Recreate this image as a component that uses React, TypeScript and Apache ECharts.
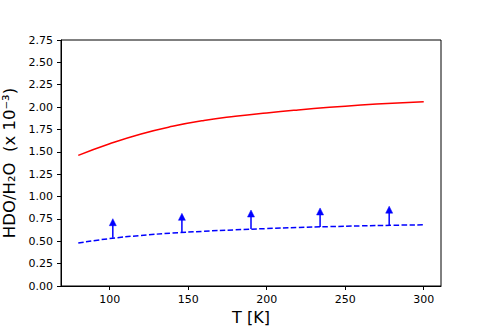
import React, { useEffect, useRef } from "react";
import * as echarts from "echarts";

const xTicks = [100, 150, 200, 250, 300];
const redT = [80, 100, 120, 140, 160, 180, 200, 220, 240, 260, 280, 300];
const redVals = [1.46, 1.59, 1.7, 1.785, 1.85, 1.897, 1.935, 1.968, 1.997, 2.022, 2.043, 2.06];
const blueT = [80, 100, 120, 140, 160, 180, 200, 220, 240, 260, 280, 300];
const blueVals = [0.48, 0.53, 0.565, 0.592, 0.612, 0.628, 0.642, 0.654, 0.664, 0.672, 0.679, 0.684];
const arrowT = [102, 146, 190, 234, 278];
const arrowVals = [0.54, 0.6, 0.637, 0.66, 0.68];

export default function App() {
  const ref = useRef<HTMLDivElement>(null);
  useEffect(() => {
    const chart = echarts.init(ref.current!, null, { renderer: "svg" });
    const font = "DejaVu Sans";
    chart.setOption({
      animation: false,
      grid: {
        left: 61,
        right: 50,
        top: 40,
        bottom: 41,
        containLabel: false,
        outerBoundsMode: "none",
        show: true,
        borderColor: "#000",
        borderWidth: 1,
        backgroundColor: "transparent",
      },
      xAxis: {
        type: "value",
        min: 69,
        max: 311,
        name: "T [K]",
        nameLocation: "middle",
        nameGap: 23,
        nameTextStyle: { fontFamily: font, fontSize: 16, color: "#000" },
        axisLine: { show: true, lineStyle: { color: "#000", width: 1 } },
        axisTick: { show: true, length: 4, customValues: xTicks, lineStyle: { color: "#000" } },
        axisLabel: {
          customValues: xTicks,
          margin: 8,
          fontFamily: font,
          fontSize: 11,
          color: "#000",
        },
        splitLine: { show: false },
      },
      yAxis: {
        type: "value",
        min: 0,
        max: 2.75,
        interval: 0.25,
        name: "HDO/H₂O  (x 10⁻³)",
        nameLocation: "middle",
        nameRotate: 90,
        nameGap: 29,
        nameTextStyle: { fontFamily: font, fontSize: 16.5, color: "#000" },
        axisLine: { show: true, lineStyle: { color: "#000", width: 1 } },
        axisTick: { show: true, length: 4, lineStyle: { color: "#000" } },
        axisLabel: {
          margin: 8,
          fontFamily: font,
          fontSize: 11,
          color: "#000",
          formatter: (v: number) => v.toFixed(2),
        },
        splitLine: { show: false },
      },
      series: [
        {
          type: "line",
          data: redT.map((t, i) => [t, redVals[i]]),
          smooth: true,
          symbol: "none",
          lineStyle: { color: "#ff0000", width: 1.5 },
        },
        {
          type: "line",
          data: blueT.map((t, i) => [t, blueVals[i]]),
          smooth: true,
          symbol: "none",
          lineStyle: { color: "#0000ff", width: 1.5, type: [5.5, 2.4] },
        },
        {
          type: "custom",
          data: arrowT.map((t, i) => [t, arrowVals[i]]),
          renderItem: (params: any, api: any) => {
            const p = api.coord([api.value(0), api.value(1)]);
            const len = 19;
            const headH = 7;
            const headW = 3.5;
            const tipY = p[1] - len;
            return {
              type: "group",
              children: [
                {
                  type: "line",
                  shape: { x1: p[0], y1: p[1], x2: p[0], y2: tipY + headH - 1 },
                  style: { stroke: "#0000ff", lineWidth: 1.5 },
                },
                {
                  type: "polygon",
                  shape: {
                    points: [
                      [p[0], tipY],
                      [p[0] - headW, tipY + headH],
                      [p[0] + headW, tipY + headH],
                    ],
                  },
                  style: { fill: "#0000ff", stroke: "#0000ff", lineWidth: 0.5 },
                },
              ],
            };
          },
        },
      ],
    });
    return () => chart.dispose();
  }, []);
  return (
    <div
      ref={ref}
      style={{ position: "fixed", left: 0, top: 0, width: 491, height: 327, background: "#fff" }}
    />
  );
}
